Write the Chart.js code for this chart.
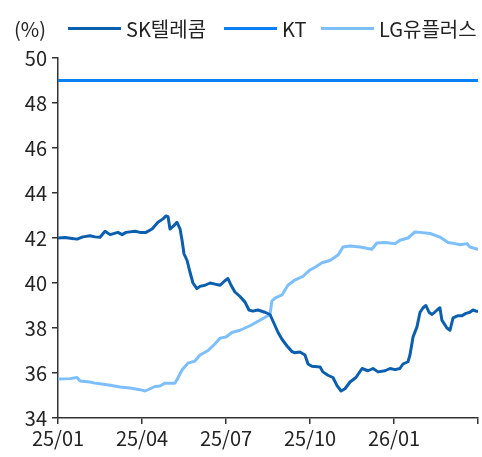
<!DOCTYPE html>
<html>
<head>
<meta charset="utf-8">
<script src="https://cdn.jsdelivr.net/npm/chart.js@4"></script>
<style>
  html, body { margin: 0; padding: 0; background: #fff; }
  #wrap { position: relative; width: 482px; height: 457px; }
  #chart { position: absolute; left: 0; top: 0; }
  .lg { position: absolute; top: 16px; height: 24px; display: flex; align-items: center;
        font-family: "Noto Sans CJK KR", "Noto Sans", sans-serif; font-size: 20px; color: #222; white-space: nowrap; }
  .lg i { display: inline-block; width: 53px; height: 3px; margin-right: 5px; }
</style>
</head>
<body>
<div id="wrap">
  <canvas id="chart" width="482" height="457"></canvas>
  <div class="lg" style="left:14px">(%)</div>
  <div class="lg" style="left:68px"><i style="background:#0b5fae"></i>SK텔레콤</div>
  <div class="lg" style="left:224px"><i style="background:#0a80f4"></i>KT</div>
  <div class="lg" style="left:321px"><i style="background:#7dbffb"></i>LG유플러스</div>
</div>
<script>
// x = months since 2025/01
const tickLabels = ["25/01", "25/04", "25/07", "25/10", "26/01", ""];

const skMonths = [0, 0.25, 0.5, 0.68, 0.89, 1.14, 1.32, 1.5, 1.68, 1.86, 2.14, 2.29, 2.43, 2.75, 2.93, 3.14, 3.36, 3.57, 3.75, 3.86, 3.93, 4.0, 4.14, 4.25, 4.36, 4.43, 4.5, 4.61, 4.71, 4.82, 4.96, 5.07, 5.25, 5.43, 5.61, 5.79, 5.96, 6.07, 6.18, 6.32, 6.5, 6.68, 6.82, 6.96, 7.14, 7.39, 7.57, 7.68, 7.86, 8.0, 8.18, 8.36, 8.46, 8.64, 8.82, 8.93, 9.07, 9.36, 9.46, 9.64, 9.82, 9.96, 10.11, 10.25, 10.43, 10.64, 10.86, 11.07, 11.25, 11.43, 11.68, 11.86, 12.04, 12.21, 12.32, 12.5, 12.57, 12.68, 12.82, 12.93, 13.04, 13.14, 13.25, 13.36, 13.54, 13.64, 13.71, 13.89, 14.0, 14.11, 14.29, 14.43, 14.57, 14.71, 14.82, 14.93, 15.0];
const skValues = [42.0, 42.02, 41.98, 41.95, 42.05, 42.1, 42.05, 42.03, 42.3, 42.15, 42.25, 42.15, 42.25, 42.3, 42.25, 42.25, 42.4, 42.7, 42.85, 42.98, 42.95, 42.4, 42.55, 42.7, 42.4, 41.9, 41.3, 41.0, 40.5, 40.0, 39.75, 39.85, 39.9, 40.0, 39.95, 39.9, 40.1, 40.2, 39.9, 39.6, 39.4, 39.15, 38.8, 38.75, 38.8, 38.7, 38.6, 38.3, 37.8, 37.5, 37.2, 36.95, 36.9, 36.93, 36.8, 36.4, 36.3, 36.27, 36.05, 35.9, 35.8, 35.45, 35.2, 35.3, 35.6, 35.8, 36.2, 36.1, 36.2, 36.05, 36.1, 36.2, 36.15, 36.2, 36.4, 36.5, 36.8, 37.6, 38.05, 38.7, 38.9, 39.0, 38.7, 38.6, 38.8, 38.9, 38.35, 38.0, 37.9, 38.45, 38.55, 38.55, 38.65, 38.7, 38.8, 38.75, 38.75];

const ktMonths = [0, 15];
const ktValues = [49.0, 49.0];

const lgMonths = [0, 0.43, 0.68, 0.79, 1.14, 1.32, 1.5, 1.86, 2.21, 2.57, 2.93, 3.11, 3.29, 3.46, 3.64, 3.82, 4.18, 4.29, 4.43, 4.64, 4.89, 5.07, 5.36, 5.61, 5.79, 6.0, 6.21, 6.5, 6.86, 7.29, 7.57, 7.64, 7.75, 8.0, 8.21, 8.46, 8.75, 9.0, 9.18, 9.43, 9.71, 10.0, 10.18, 10.43, 10.79, 11.21, 11.39, 11.68, 12.04, 12.21, 12.5, 12.75, 12.93, 13.29, 13.64, 13.93, 14.18, 14.36, 14.61, 14.71, 15.0];
const lgValues = [35.73, 35.75, 35.8, 35.64, 35.6, 35.55, 35.52, 35.46, 35.38, 35.33, 35.26, 35.2, 35.3, 35.4, 35.42, 35.55, 35.55, 35.8, 36.13, 36.44, 36.53, 36.8, 37.0, 37.3, 37.55, 37.6, 37.8, 37.9, 38.1, 38.4, 38.6, 39.2, 39.33, 39.47, 39.9, 40.13, 40.3, 40.58, 40.7, 40.9, 41.0, 41.24, 41.6, 41.64, 41.6, 41.5, 41.78, 41.8, 41.75, 41.9, 42.0, 42.27, 42.25, 42.2, 42.04, 41.8, 41.75, 41.7, 41.75, 41.6, 41.5];

const toPoints = (xs, ys) => xs.map((x, i) => ({ x: x, y: ys[i] }));

const tickFont = { family: "'Noto Sans CJK KR', 'Noto Sans', sans-serif", size: 20 };

new Chart(document.getElementById("chart"), {
    type: "line",
    data: {
        datasets: [
            { label: "SK텔레콤", data: toPoints(skMonths, skValues), borderColor: "#0b5fae", borderWidth: 3 },
            { label: "KT", data: toPoints(ktMonths, ktValues), borderColor: "#0a80f4", borderWidth: 3 },
            { label: "LG유플러스", data: toPoints(lgMonths, lgValues), borderColor: "#7dbffb", borderWidth: 3 }
        ]
    },
    options: {
        responsive: false,
        animation: false,
        elements: {
            point: { radius: 0 },
            line: { tension: 0, borderJoinStyle: "round", borderCapStyle: "round" }
        },
        layout: { padding: { left: 0, right: 4, top: 58, bottom: 0 } },
        plugins: { legend: { display: false }, tooltip: { enabled: false } },
        scales: {
            x: {
                type: "linear",
                min: 0,
                max: 15,
                afterFit: s => { s.height = 39; },
                afterBuildTicks: s => { s.ticks = [0, 3, 6, 9, 12, 15].map(v => ({ value: v })); },
                ticks: {
                    autoSkip: false,
                    maxRotation: 0,
                    padding: 2,
                    color: "#222",
                    font: tickFont,
                    callback: v => tickLabels[Math.round(v / 3)]
                },
                grid: { drawOnChartArea: false, tickLength: 6, color: "#333", lineWidth: 1.5 },
                border: { color: "#333", width: 1.5 }
            },
            y: {
                min: 34,
                max: 50,
                afterFit: s => { s.width = 58; },
                ticks: { stepSize: 2, padding: 5, color: "#222", font: tickFont },
                grid: { drawOnChartArea: false, tickLength: 6, color: "#333", lineWidth: 1.5 },
                border: { color: "#333", width: 1.5 }
            }
        }
    }
});
</script>
</body>
</html>
